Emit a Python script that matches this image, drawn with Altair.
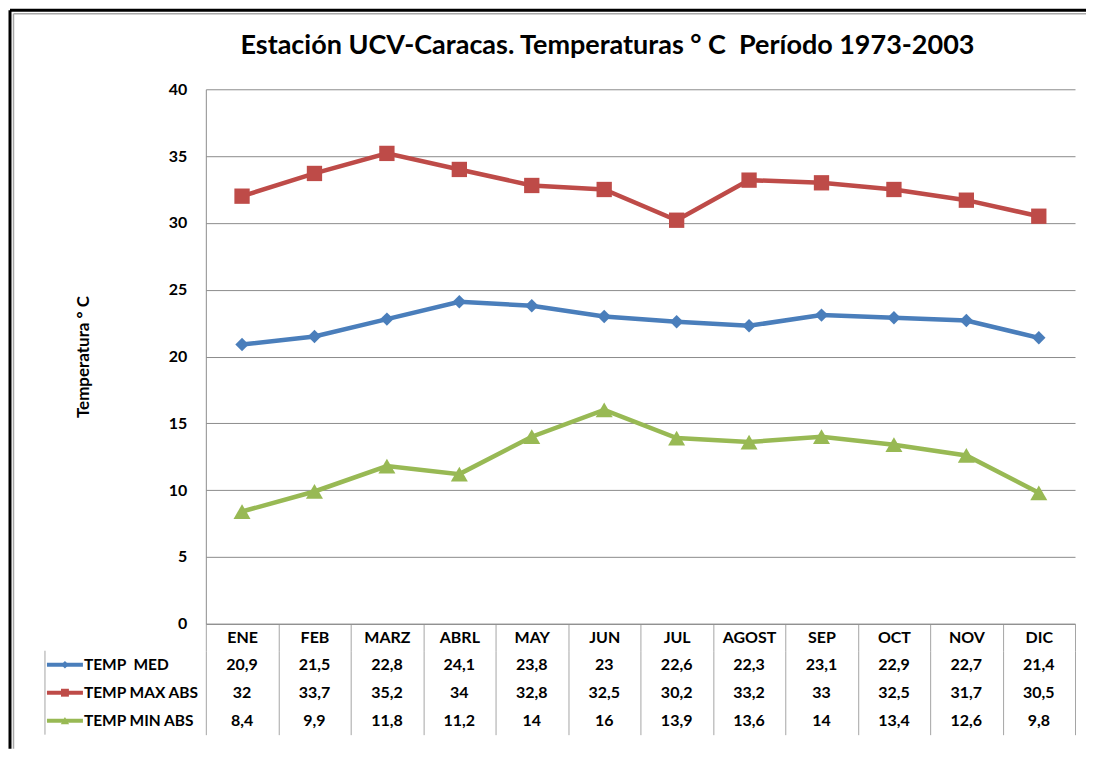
import altair as alt
import pandas as pd

FONT = "Lato"
TITLE = "Estación UCV-Caracas. Temperaturas ° C\u00a0 Período 1973-2003"
months = ["ENE", "FEB", "MARZ", "ABRL", "MAY", "JUN", "JUL", "AGOST", "SEP", "OCT", "NOV", "DIC"]
series_names = ["TEMP\u00a0 MED", "TEMP MAX ABS", "TEMP MIN ABS"]
temp_med = [20.9, 21.5, 22.8, 24.1, 23.8, 23, 22.6, 22.3, 23.1, 22.9, 22.7, 21.4]
temp_max = [32, 33.7, 35.2, 34, 32.8, 32.5, 30.2, 33.2, 33, 32.5, 31.7, 30.5]
temp_min = [8.4, 9.9, 11.8, 11.2, 14, 16, 13.9, 13.6, 14, 13.4, 12.6, 9.8]
y_ticks = [0, 5, 10, 15, 20, 25, 30, 35, 40]
colors = ["#4A7EBB", "#BE4B48", "#98B954"]
shapes = ["diamond", "square", "triangle-up"]

GRID = "#8c8c8c"
TGRID = "#a5a5a5"

rows = []
for name, vals in zip(series_names, [temp_med, temp_max, temp_min]):
    for m, v in zip(months, vals):
        rows.append({"mes": m, "serie": name, "valor": v,
                     "label": f"{v:g}".replace(".", ",")})
df = pd.DataFrame(rows)
names_df = pd.DataFrame({"serie": series_names})
one = pd.DataFrame({"t": [TITLE]})

W, H = 870, 535
TH = 84

color = alt.Color("serie:N", scale=alt.Scale(domain=series_names, range=colors), legend=None)
shape = alt.Shape("serie:N", scale=alt.Scale(domain=series_names, range=shapes), legend=None)

x_top = alt.X("mes:N", sort=months,
              scale=alt.Scale(type="band", domain=months, paddingInner=0, paddingOuter=0),
              axis=alt.Axis(title=None, labelAngle=0, tickBand="extent", tickSize=27,
                            tickColor=TGRID, domainColor=GRID, labelPadding=-13,
                            labelBaseline="middle", labelFontSize=16, labelFontWeight="bold",
                            labelColor="black", labelFont=FONT, grid=False))
y_top = alt.Y("valor:Q", scale=alt.Scale(domain=[0, 40], nice=False, zero=True),
              axis=alt.Axis(values=y_ticks, title="Temperatura ° C", grid=True, gridColor=GRID,
                            ticks=False, domainColor=GRID, labelFontSize=16,
                            labelFontWeight="bold", labelColor="black", labelFont=FONT,
                            labelPadding=19, titleFontSize=17, titleFontWeight="bold",
                            titleFont=FONT, titleColor="black", titleX=-113))

lines = alt.Chart(df).mark_line(strokeWidth=4.5).encode(x=x_top, y=y_top, color=color)
points = alt.Chart(df).mark_point(filled=True, opacity=1).encode(
    x=x_top, y=y_top, color=color, shape=shape,
    size=alt.Size("serie:O", scale=alt.Scale(domain=series_names, range=[180, 290, 240]), legend=None))

title = alt.Chart(one).mark_text(fontSize=27, fontWeight="bold", font=FONT, align="center",
                                 baseline="middle", color="black").encode(
    x=alt.value(402), y=alt.value(-43), text="t:N")

frame_l = alt.Chart(one).mark_rule(color="black", strokeWidth=3).encode(
    x=alt.value(-196), y=alt.value(-79), y2=alt.value(660))
frame_t = alt.Chart(one).mark_rule(color="black", strokeWidth=3).encode(
    x=alt.value(-196), x2=alt.value(881), y=alt.value(-79))
frame_l2 = alt.Chart(one).mark_rule(color="#a8a8a8", strokeWidth=1.5).encode(
    x=alt.value(-192.5), y=alt.value(-75.5), y2=alt.value(660))
frame_t2 = alt.Chart(one).mark_rule(color="#a8a8a8", strokeWidth=1.5).encode(
    x=alt.value(-192.5), x2=alt.value(881), y=alt.value(-75.5))

top = alt.layer(frame_l, frame_t, frame_l2, frame_t2, title, lines, points).properties(
    width=W, height=H, view=alt.ViewBackground(stroke="transparent", strokeWidth=0))

# table
x_tab = alt.X("mes:N", sort=months,
              scale=alt.Scale(type="band", domain=months, paddingInner=0, paddingOuter=0),
              axis=alt.Axis(title=None, labels=False, ticks=False, domain=False, grid=True,
                            tickBand="extent", gridColor=TGRID))
y_scale = alt.Scale(type="band", domain=series_names, paddingInner=0, paddingOuter=0)
y_tab = alt.Y("serie:N", sort=series_names, scale=y_scale,
              axis=alt.Axis(title=None, labels=False, domain=False, ticks=True, tickBand="extent",
                            tickSize=161, tickColor=TGRID, grid=True, gridColor=TGRID))
y_tab_na = alt.Y("serie:N", sort=series_names, scale=y_scale, axis=None)

cells = alt.Chart(df).mark_text(font=FONT, fontSize=16, fontWeight="bold", color="black").encode(
    x=x_tab, y=y_tab, text="label:N")
row_labels = alt.Chart(names_df).mark_text(font=FONT, fontSize=15.5, fontWeight="bold", color="black",
                                           align="left").encode(
    x=alt.value(-122), y=y_tab_na, text="serie:N")
swatch_line = alt.Chart(names_df).mark_rule(strokeWidth=4).encode(
    x=alt.value(-159), x2=alt.value(-123), y=y_tab_na, color=color)
swatch_pt = alt.Chart(names_df).mark_point(filled=True, opacity=1).encode(
    x=alt.value(-141), y=y_tab_na, color=color, shape=shape,
    size=alt.Size("serie:O", scale=alt.Scale(domain=series_names, range=[55, 70, 55]), legend=None))
left_border = alt.Chart(one).mark_rule(color=TGRID, strokeWidth=1).encode(
    x=alt.value(-161), y=alt.value(0), y2=alt.value(TH))

table = alt.layer(left_border, cells, row_labels, swatch_line, swatch_pt).properties(
    width=W, height=TH, view=alt.ViewBackground(stroke="transparent", strokeWidth=0))

chart = alt.vconcat(top, table, spacing=27, bounds="flush").properties(
    padding=0
).resolve_scale(x="independent", y="independent", size="independent").configure_view(
    stroke="transparent", strokeWidth=0).configure(font=FONT)

chart.save("out.html", embed_options={"renderer": "svg", "actions": False})
